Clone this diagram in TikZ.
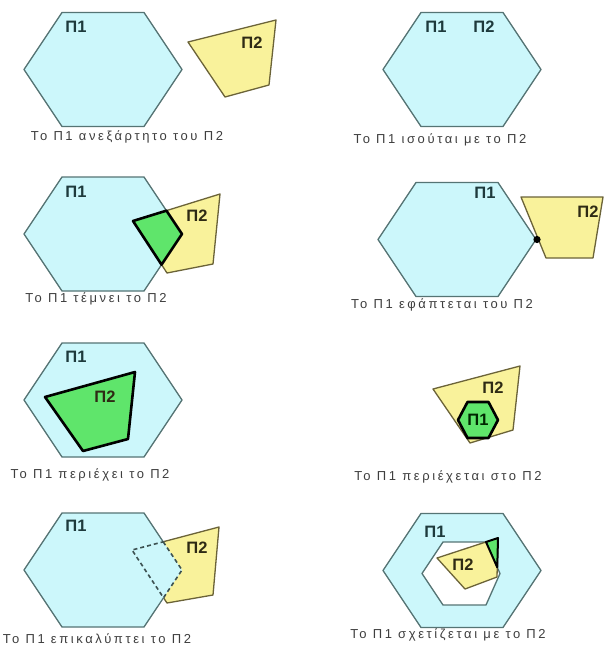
\documentclass[tikz,border=0pt]{standalone}
\usepackage{fontspec}
\setmainfont{Liberation Sans}
\newfontfamily\capfont[LetterSpace=20]{Liberation Sans}
\definecolor{hexfill}{HTML}{CCF7FB}
\definecolor{hexline}{HTML}{557474}
\definecolor{quadfill}{HTML}{F9F29B}
\definecolor{quadline}{HTML}{6B6338}
\definecolor{grn}{HTML}{5FE56B}
\definecolor{lbl}{HTML}{1E3A3C}
\definecolor{lblb}{HTML}{2E2A14}
\definecolor{capc}{HTML}{3E3E3E}
\newcommand\hexpath{(-41,-57) -- (41,-57) -- (79,0) -- (41,57) -- (-41,57) -- (-79,0) -- cycle}
\tikzset{
  hexa/.style={fill=hexfill, draw=hexline, line width=1.3pt, line join=round},
  hexonly/.style={fill=hexfill},
  hexedge/.style={draw=hexline, line width=1.3pt, line join=round},
  quad/.style={fill=quadfill, draw=quadline, line width=1.3pt, line join=round},
  inter/.style={fill=grn, draw=black, line width=2.6pt, line join=round},
  dashedge/.style={draw=hexline!70!black, line width=1.6pt, dash pattern=on 4pt off 3pt},
  lab/.style={font=\bfseries\fontsize{16.5}{16.5}\selectfont, text=lbl, inner sep=0pt},
  labb/.style={lab, text=lblb},
  captext/.style={font=\capfont\fontsize{13}{13}\selectfont, text=capc, inner sep=0pt}
}
\begin{document}
\begin{tikzpicture}[x=1pt,y=-1pt]
\fill[white] (0,0) rectangle (605,655);
\useasboundingbox (0,0) rectangle (605,655);

% ---------- Panel 1: independent ----------
\draw[quad] (188,42) -- (276,20) -- (269,85) -- (225,97) -- cycle;
\begin{scope}[shift={(103,69.5)}]\draw[hexa] \hexpath;\end{scope}
\node[lab] (p1a) at (76,27) {Π1};
\node[labb] (p2a) at (252,43) {Π2};
\node[captext] (c1) at (127,137) {Το Π1 ανεξάρτητο του Π2};

% ---------- Panel 2: equal ----------
\begin{scope}[shift={(462,69.5)}]\draw[hexa] \hexpath;\end{scope}
\node[lab] (p1b) at (436,27) {Π1};
\node[lab] (p2b) at (484,27) {Π2};
\node[captext] (c2) at (440,140) {Το Π1 ισούται με το Π2};

% ---------- Panel 3: intersects ----------
\coordinate (q3a) at (133,221); \coordinate (q3b) at (220,194);
\coordinate (q3c) at (213,264); \coordinate (q3d) at (167,273);
\coordinate (h3tr) at (144,177); \coordinate (h3r) at (182,234); \coordinate (h3br) at (144,291);
\draw[quad] (q3a) -- (q3b) -- (q3c) -- (q3d) -- cycle;
\begin{scope}[shift={(103,234)}]\draw[hexa] \hexpath;\end{scope}
\draw[inter] (q3a) -- (intersection of q3a--q3b and h3tr--h3r) -- (h3r)
  -- (intersection of q3a--q3d and h3r--h3br) -- cycle;
\node[lab] (p1c) at (76,192) {Π1};
\node[labb] (p2c) at (197,216) {Π2};
\node[captext] (c3) at (96,299) {Το Π1 τέμνει το Π2};

% ---------- Panel 4: touches ----------
\draw[quad] (521,197) -- (603,197) -- (593,258) -- (546,258) -- cycle;
\begin{scope}[shift={(457,239.5)}]\draw[hexa] \hexpath;\end{scope}
\fill[black] (537,239.5) circle (3.6);
\node[lab] (p1d) at (485,193) {Π1};
\node[labb] (p2d) at (588,212) {Π2};
\node[captext] (c4) at (442,305) {Το Π1 εφάπτεται του Π2};

% ---------- Panel 5: contains ----------
\begin{scope}[shift={(103,400)}]\draw[hexa] \hexpath;\end{scope}
\draw[inter] (45,397) -- (135,372) -- (128,439) -- (83,451) -- cycle;
\node[lab] (p1e) at (76,357) {Π1};
\node[labb] (p2e) at (105,397) {Π2};
\node[captext] (c5) at (90,475) {Το Π1 περιέχει το Π2};

% ---------- Panel 6: is contained ----------
\draw[quad] (433,389) -- (520,366) -- (513,430) -- (470,443) -- cycle;
\draw[inter] (467.5,402) -- (488.5,402) -- (498,420) -- (488.5,438) -- (467.5,438) -- (458,420) -- cycle;
\node[labb] (p2f) at (493,388) {Π2};
\node[lab, text=black!85!green] (p1f) at (478,420) {Π1};
\node[captext] (c6) at (448,477) {Το Π1 περιέχεται στο Π2};

% ---------- Panel 7: covers ----------
\coordinate (q7a) at (132,550); \coordinate (q7b) at (219,527);
\coordinate (q7c) at (213,595); \coordinate (q7d) at (167,603);
\coordinate (h7tl) at (62,513); \coordinate (h7tr) at (144,513); \coordinate (h7r) at (182,570);
\coordinate (h7br) at (144,627); \coordinate (h7bl) at (62,627); \coordinate (h7l) at (24,570);
\coordinate (i7a) at (intersection of q7a--q7b and h7tr--h7r);
\coordinate (i7b) at (intersection of q7a--q7d and h7r--h7br);
\draw[quad] (q7a) -- (q7b) -- (q7c) -- (q7d) -- cycle;
\fill[hexonly] (h7tl) -- (h7tr) -- (h7r) -- (h7br) -- (h7bl) -- (h7l) -- cycle;
\draw[hexedge] (i7a) -- (h7tr) -- (h7tl) -- (h7l) -- (h7bl) -- (h7br) -- (i7b);
\draw[dashedge] (i7a) -- (h7r) -- (i7b) -- (q7a) -- cycle;
\node[lab] (p1g) at (76,526) {Π1};
\node[labb] (p2g) at (197,548) {Π2};
\node[captext] (c7) at (97,639) {Το Π1 επικαλύπτει το Π2};

% ---------- Panel 8: related ----------
\begin{scope}[shift={(462,570.5)}]\draw[hexa] \hexpath;\end{scope}
\coordinate (n8tl) at (443,542); \coordinate (n8tr) at (486,542); \coordinate (n8r) at (500,573.5);
\coordinate (n8br) at (486,605); \coordinate (n8bl) at (443,605); \coordinate (n8l) at (422,573.5);
\draw[fill=white, hexedge] (n8tl) -- (n8tr) -- (n8r) -- (n8br) -- (n8bl) -- (n8l) -- cycle;
\coordinate (q8a) at (437,558); \coordinate (q8b) at (498,538);
\coordinate (q8c) at (497,577); \coordinate (q8d) at (465,589);
\draw[quad] (q8a) -- (q8b) -- (q8c) -- (q8d) -- cycle;
\draw[inter, line width=2pt] (intersection of q8a--q8b and n8tr--n8r) -- (q8b)
  -- (intersection of q8b--q8c and n8tr--n8r) -- cycle;
\node[lab] (p1h) at (435,532) {Π1};
\node[labb] (p2h) at (463,565) {Π2};
\node[captext] (c8) at (448,635) {Το Π1 σχετίζεται με το Π2};
\end{tikzpicture}
\end{document}
